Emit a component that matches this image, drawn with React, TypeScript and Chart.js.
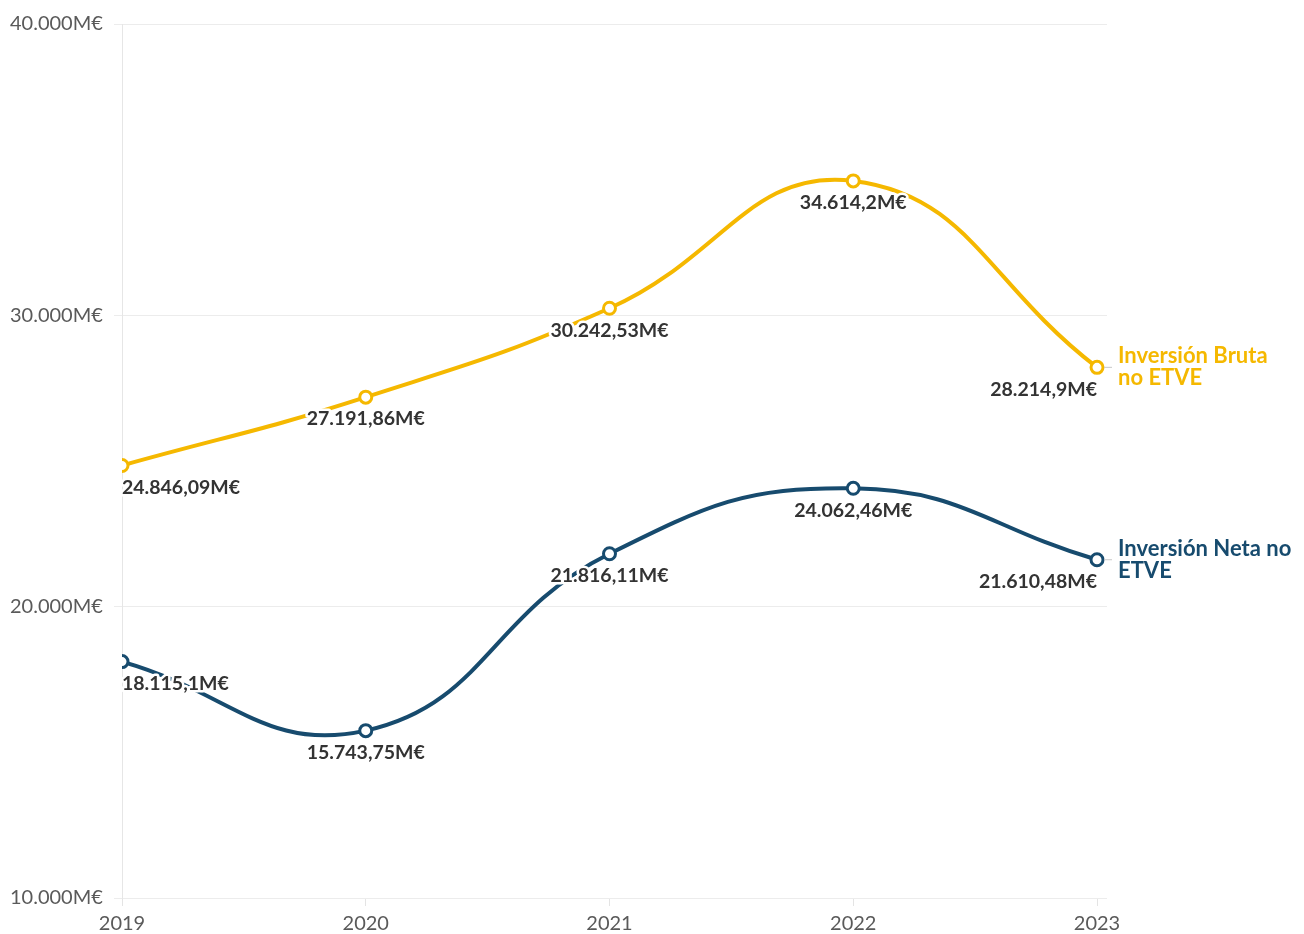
import React, { useEffect, useRef } from 'react';
import { Chart, registerables } from 'chart.js';

Chart.register(...registerables);

const years = [2019, 2020, 2021, 2022, 2023];
const brutaValues = [24846.09, 27191.86, 30242.53, 34614.2, 28214.9];
const netaValues = [18115.1, 15743.75, 21816.11, 24062.46, 21610.48];
const seriesNames = [
  ['Inversión Bruta', 'no ETVE'],
  ['Inversión Neta no', 'ETVE'],
];
const seriesColors = ['#f5b800', '#174b6e'];
const yTicks = [10000, 20000, 30000, 40000];

const FONT = "Lato, 'Noto Sans', sans-serif";

function fmt(v: number): string {
  const s = String(v);
  const [intPart, dec] = s.split('.');
  const grouped = intPart.replace(/\B(?=(\d{3})+(?!\d))/g, '.');
  return dec ? `${grouped},${dec}` : grouped;
}

const labelPlugin = {
  id: 'pointLabels',
  afterDatasetsDraw(chart: any) {
    const ctx = chart.ctx as CanvasRenderingContext2D;
    chart.data.datasets.forEach((ds: any, di: number) => {
      const meta = chart.getDatasetMeta(di);
      const n = meta.data.length;
      ctx.save();
      ctx.font = `bold 19.5px ${FONT}`;
      ctx.textBaseline = 'middle';
      ctx.lineJoin = 'round';
      meta.data.forEach((pt: any, i: number) => {
        const text = fmt(ds.data[i].y) + 'M€';
        ctx.textAlign = i === 0 ? 'left' : i === n - 1 ? 'right' : 'center';
        const y = pt.y + 22;
        ctx.strokeStyle = '#ffffff';
        ctx.lineWidth = 5;
        ctx.strokeText(text, pt.x, y);
        ctx.fillStyle = '#333333';
        ctx.fillText(text, pt.x, y);
      });
      const last = meta.data[n - 1];
      ctx.strokeStyle = '#c8c8c8';
      ctx.lineWidth = 1;
      ctx.beginPath();
      ctx.moveTo(last.x + 7, last.y);
      ctx.lineTo(last.x + 15, last.y);
      ctx.stroke();
      ctx.font = `bold 22px ${FONT}`;
      ctx.textAlign = 'left';
      ctx.fillStyle = seriesColors[di];
      const lines = seriesNames[di];
      lines.forEach((l, j) => {
        ctx.fillText(l, last.x + 21, last.y + (j - (lines.length - 1) / 2) * 22);
      });
      ctx.restore();
    });
  },
};

export default function App() {
  const ref = useRef<HTMLCanvasElement>(null);
  useEffect(() => {
    const canvas = ref.current;
    if (!canvas) return;
    const mk = (vals: number[], i: number) => ({
      label: seriesNames[i].join(' '),
      data: years.map((x, k) => ({ x, y: vals[k] })),
      borderColor: seriesColors[i],
      backgroundColor: '#ffffff',
      borderWidth: 4,
      pointRadius: 6,
      pointBorderWidth: 3,
      pointBackgroundColor: '#ffffff',
      pointBorderColor: seriesColors[i],
      tension: 0.45,
      fill: false,
    });
    const chart = new Chart(canvas, {
      type: 'line',
      data: { datasets: [mk(brutaValues, 0), mk(netaValues, 1)] },
      options: {
        animation: false,
        responsive: false,
        layout: { padding: { left: 10, right: 197, top: 24, bottom: 0 } },
        plugins: { legend: { display: false }, tooltip: { enabled: false } },
        scales: {
          x: {
            type: 'linear',
            min: 2019,
            max: 2023.041,
            afterBuildTicks: (axis: any) => {
              axis.ticks = years.map((v) => ({ value: v }));
            },
            afterFit: (axis: any) => {
              axis.height = 36;
            },
            grid: {
              drawOnChartArea: false,
              drawTicks: true,
              tickLength: 8,
              color: '#e4e4e4',
            },
            border: { display: false },
            ticks: {
              autoSkip: false,
              maxRotation: 0,
              padding: 6,
              color: '#5a5a5a',
              font: { family: FONT, size: 20 },
              callback: (v: any) => String(v),
            },
          },
          y: {
            min: 10000,
            max: 40000,
            afterBuildTicks: (axis: any) => {
              axis.ticks = yTicks.map((v) => ({ value: v }));
            },
            afterFit: (axis: any) => {
              axis.width = 112;
            },
            grid: { color: '#ececec', tickLength: 8, lineWidth: 1 },
            border: { display: true, color: '#e6e6e6' },
            ticks: {
              crossAlign: 'far',
              color: '#5a5a5a',
              font: { family: FONT, size: 20 },
              callback: (v: any) => `${fmt(Number(v))}M€`,
            },
          },
        },
      },
      plugins: [labelPlugin],
    } as any);
    return () => chart.destroy();
  }, []);
  return (
    <div style={{ position: 'absolute', left: 0, top: 0, width: 1304, height: 934, background: '#fff' }}>
      <canvas ref={ref} width={1304} height={934} style={{ display: 'block' }} />
    </div>
  );
}
